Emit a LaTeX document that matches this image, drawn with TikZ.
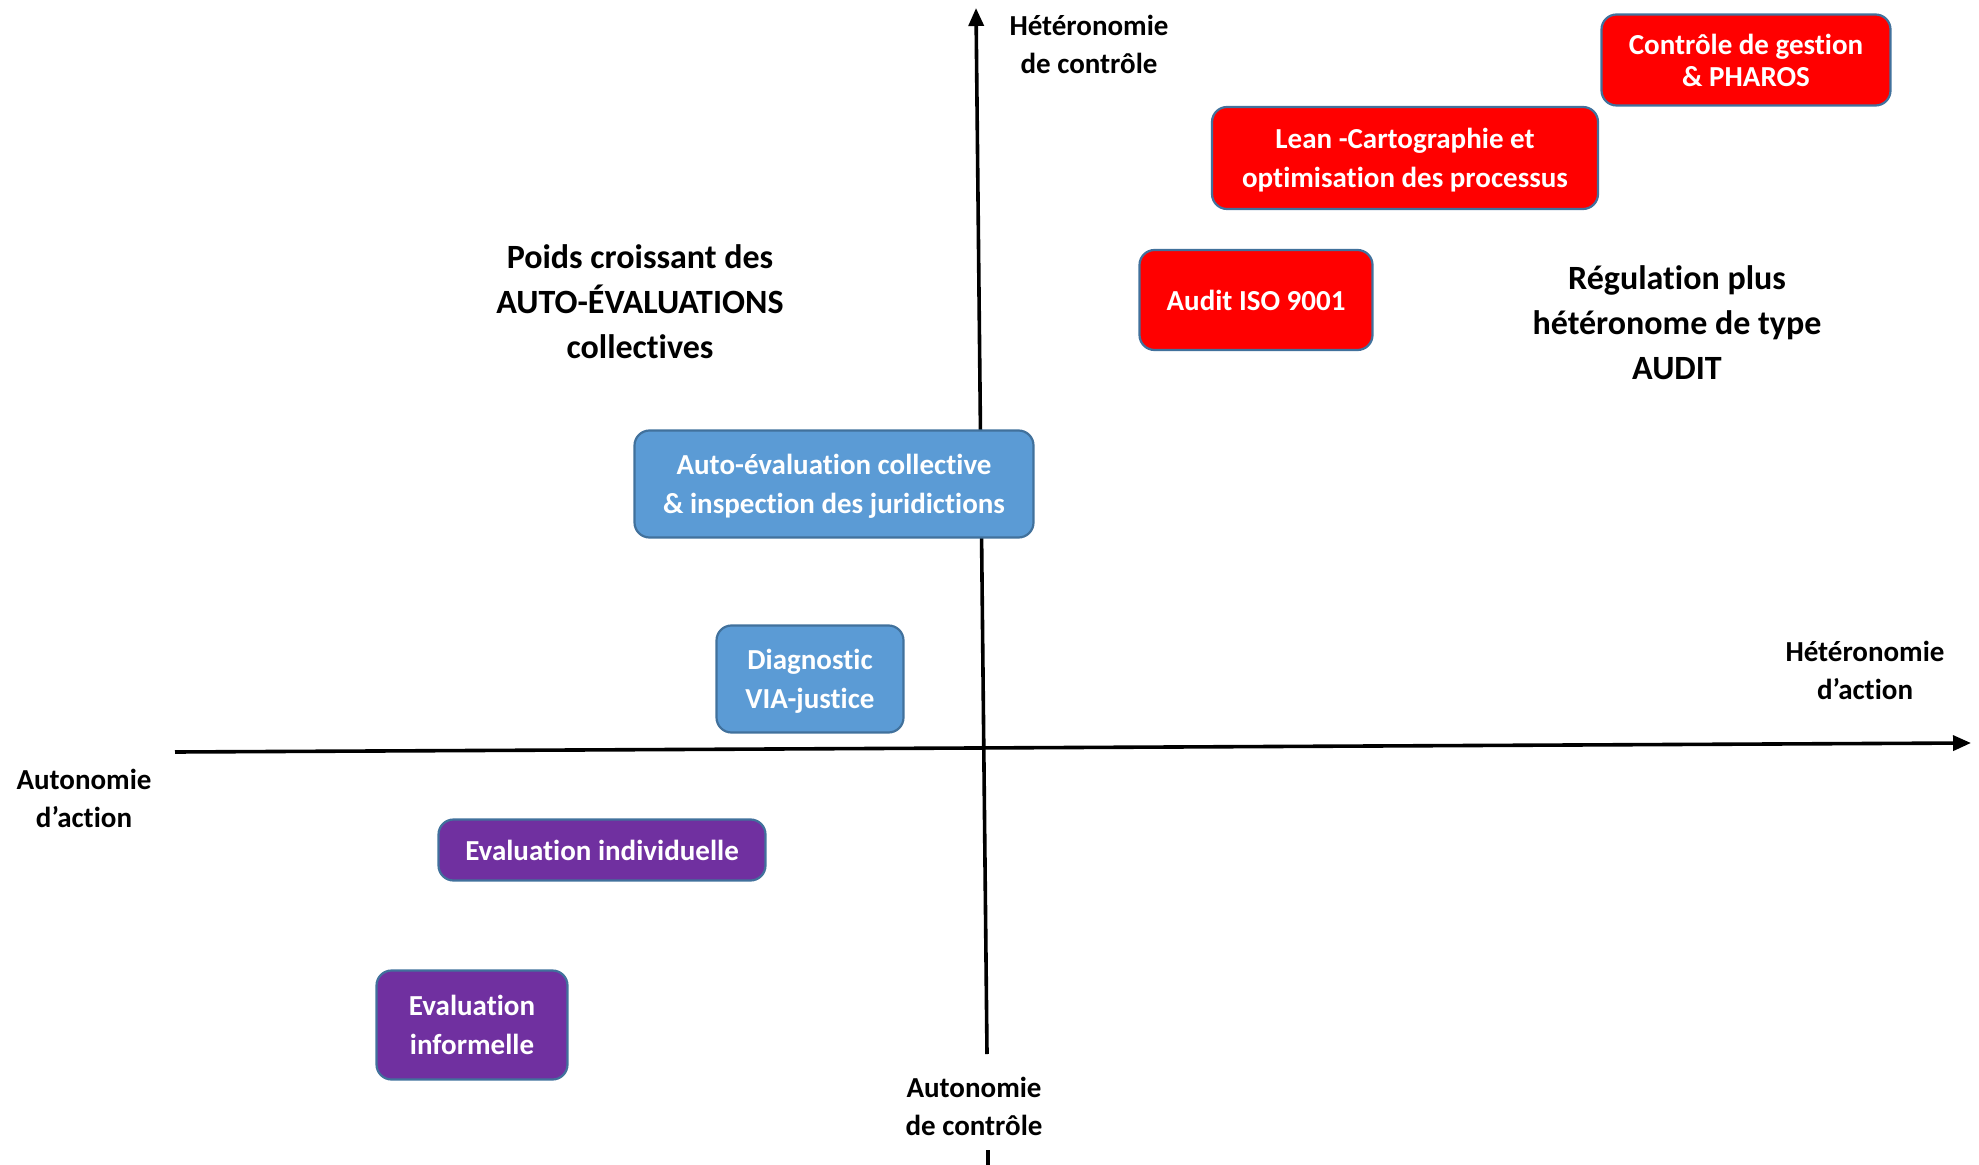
\documentclass[tikz,border=0pt]{standalone}
\usepackage{fontspec}
\setmainfont{Carlito}[Ligatures=NoCommon]
\usetikzlibrary{arrows.meta}
\definecolor{boxline}{HTML}{41719C}
\definecolor{boxblue}{HTML}{5B9BD5}
\definecolor{boxpurple}{HTML}{7030A0}
\begin{document}
\begin{tikzpicture}[x=0.5pt,y=-0.5pt,
    axis/.style={line width=1.8pt,-{Triangle[length=9pt,width=7.5pt]}},
    box/.style={rounded corners=7.5pt,draw=boxline,line width=1.1pt,text=white,align=center,
        font=\bfseries\fontsize{14.5}{19.2}\selectfont,inner sep=0pt,text depth=0pt},
    redbox/.style={box,fill=red},
    bluebox/.style={box,fill=boxblue},
    purplebox/.style={box,fill=boxpurple},
    axislabel/.style={align=center,font=\bfseries\fontsize{14.5}{19}\selectfont},
    zonelabel/.style={align=center,font=\bfseries\fontsize{17}{22.5}\selectfont}]
        \useasboundingbox (0,0) rectangle (1979,1165);
        % axes
        \coordinate (vbot) at (987,1054);
        \coordinate (vtop) at (976,8);
        \coordinate (vstub1) at (988,1150);
        \coordinate (vstub2) at (988,1165);
        \coordinate (hleft) at (175,752);
        \coordinate (hright) at (1971,743);
        \draw[axis] (vbot)--(vtop);
        \draw[line width=1.8pt] (vstub1)--(vstub2);
        \draw[axis] (hleft)--(hright);

        \node[axislabel] (hetctrl) at (1089,44) {Hétéronomie\\de contrôle};
        \node[axislabel] (hetact) at (1865,670) {Hétéronomie\\d’action};
        \node[axislabel] (autact) at (84,798) {Autonomie\\d’action};
        \node[axislabel] (autctrl) at (974,1106) {Autonomie\\de contrôle};

        \node[zonelabel] (poids) at (640,302) {Poids croissant des\\AUTO-ÉVALUATIONS\\collectives};
        \node[zonelabel] (regul) at (1677,323) {Régulation plus\\hétéronome de type\\AUDIT};

        % methods
        \node[redbox,minimum width=144.5pt,minimum height=45.5pt,
            font=\bfseries\fontsize{14.5}{16}\selectfont] (ctrl) at (1746,60) {Contrôle de gestion\\\& PHAROS};
        \node[redbox,minimum width=193pt,minimum height=51pt] (lean) at (1405,158) {Lean -Cartographie et\\optimisation des processus};
        \node[redbox,minimum width=116.5pt,minimum height=50pt] (audit) at (1256,300) {Audit ISO 9001};
        \node[bluebox,minimum width=199.5pt,minimum height=53.5pt] (autoeval) at (834,484) {Auto-évaluation collective\\\& inspection des juridictions};
        \node[bluebox,minimum width=93.5pt,minimum height=53.5pt] (diag) at (810,679) {Diagnostic\\VIA-justice};
        \node[purplebox,minimum width=163.5pt,minimum height=30.5pt] (evalind) at (602,850) {Evaluation individuelle};
        \node[purplebox,minimum width=95.5pt,minimum height=54.5pt] (evalinf) at (472,1025) {Evaluation\\informelle};
    \end{tikzpicture}
\end{document}
